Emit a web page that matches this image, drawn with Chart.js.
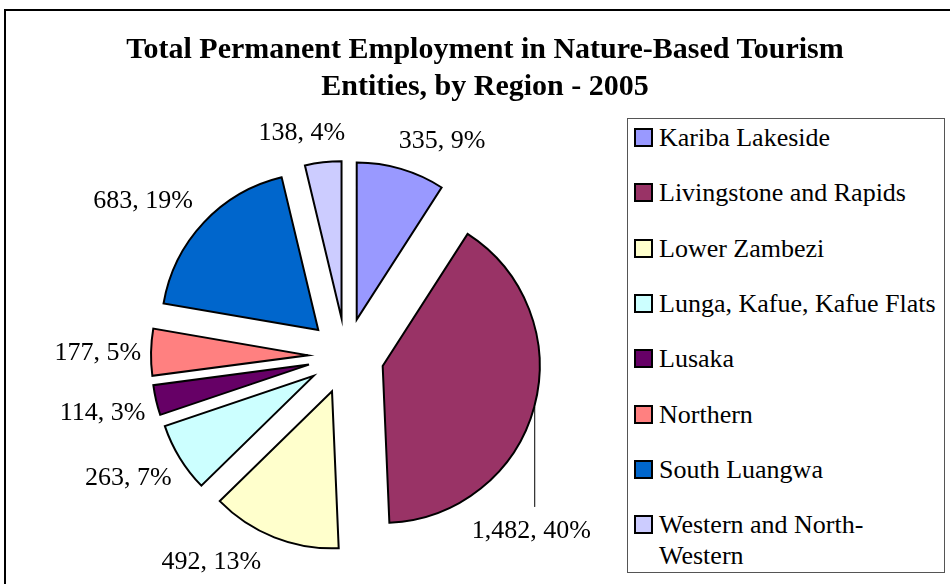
<!DOCTYPE html>
<html>
<head>
<meta charset="utf-8">
<script src="https://cdn.jsdelivr.net/npm/chart.js@4.4.0/dist/chart.umd.min.js"></script>
<style>
  html, body { margin: 0; padding: 0; background: #fff; overflow: hidden; }
  #wrap { position: relative; width: 950px; height: 584px; }
  #frame { position: absolute; left: 4px; top: 9px; width: 970px; height: 620px; border: 2px solid #000; box-sizing: border-box; }
  #title { position: absolute; left: 0; top: 29px; width: 970px; text-align: center;
           font: bold 30px "Liberation Serif", serif; line-height: 37px; color: #000; }
  #legend { position: absolute; left: 627px; top: 118px; width: 318px; height: 455px;
            border: 1px solid #555; box-sizing: border-box; background: #fff; }
  .item { position: absolute; left: 0; width: 315px; font: 26px "Liberation Serif", serif; line-height: 31px; color: #000; }
  .swatch { position: absolute; left: 6px; top: 6px; width: 19px; height: 19px; border: 2px solid #000; box-sizing: border-box; }
  .text { position: absolute; left: 31px; width: 285px; }
  canvas { position: absolute; left: 0; top: 0; }
</style>
</head>
<body>
<div id="wrap">
  <div id="frame"></div>
  <canvas id="chart" width="950" height="584"></canvas>
  <div id="title">Total Permanent Employment in Nature-Based Tourism<br>Entities, by Region - 2005</div>
  <div id="legend"></div>
</div>
<script>
const regions = ['Kariba Lakeside', 'Livingstone and Rapids', 'Lower Zambezi', 'Lunga, Kafue, Kafue Flats',
                 'Lusaka', 'Northern', 'South Luangwa', 'Western and North-Western'];
const employment = [335, 1482, 492, 263, 114, 177, 683, 138];
const sliceColors = ['#9999FF', '#993366', '#FFFFCC', '#CCFFFF', '#660066', '#FF8080', '#0066CC', '#CCCCFF'];

// legend (html, boxed like the original)
const legendBox = document.getElementById('legend');
regions.forEach((name, i) => {
    const item = document.createElement('div');
    item.className = 'item';
    item.style.top = (3 + i * 55.3) + 'px';
    item.innerHTML = '<span class="swatch" style="background:' + sliceColors[i] + '"></span><span class="text">' + name + '</span>';
    legendBox.appendChild(item);
});

// push every slice out from the centre, same distance for all
const explodePlugin = {
    id: 'explode',
    afterDatasetsUpdate(chart, args, opts) {
        chart.getDatasetMeta(0).data.forEach(arc => {
            const mid = (arc.startAngle + arc.endAngle) / 2;
            arc.x += Math.cos(mid) * opts.distance;
            arc.y += Math.sin(mid) * opts.distance;
        });
    }
};

// "value, pct%" labels outside the slices
const sliceLabelPlugin = {
    id: 'sliceLabels',
    afterDatasetsDraw(chart, args, opts) {
        const ctx = chart.ctx;
        const values = chart.data.datasets[0].data;
        const total = values.reduce((a, b) => a + b, 0);
        ctx.save();
        ctx.font = opts.font;
        ctx.fillStyle = '#000';
        ctx.strokeStyle = '#000';
        ctx.lineWidth = 1;
        ctx.textAlign = 'center';
        ctx.textBaseline = 'middle';
        chart.getDatasetMeta(0).data.forEach((arc, i) => {
            const text = values[i].toLocaleString('en-US') + ', ' + Math.round(values[i] / total * 100) + '%';
            const mid = (arc.startAngle + arc.endAngle) / 2;
            const dx = Math.cos(mid), dy = Math.sin(mid);
            const w = ctx.measureText(text).width;
            if (opts.drop[i]) {
                // leader line straight down from the arc
                const px = arc.x + dx * arc.outerRadius, py = arc.y + dy * arc.outerRadius;
                ctx.beginPath();
                ctx.moveTo(px + 0.5, py);
                ctx.lineTo(px + 0.5, py + opts.drop[i]);
                ctx.stroke();
                ctx.fillText(text, px - 3, py + opts.drop[i] + 24);
                return;
            }
            const r = arc.outerRadius + opts.pad;
            const nudge = opts.nudge[i] || [0, 0];
            const x = arc.x + dx * r + dx * w / 2 + nudge[0];
            const y = arc.y + dy * r + dy * 19 + nudge[1];
            ctx.fillText(text, x, y);
        });
        ctx.restore();
    }
};

const ctx = document.getElementById('chart').getContext('2d');
new Chart(ctx, {
    type: 'pie',
    data: {
        labels: regions,
        datasets: [{
            data: employment,
            backgroundColor: sliceColors,
            borderColor: '#000',
            borderWidth: 2,
            borderJoinStyle: 'miter',
            clip: false
        }]
    },
    options: {
        responsive: false,
        animation: false,
        radius: 157,
        layout: { padding: { left: 0, right: 258, top: 128, bottom: 0 } },
        plugins: {
            legend: { display: false },
            title: { display: false },
            tooltip: { enabled: false },
            explode: { distance: 38 },
            sliceLabels: {
                font: '26px "Liberation Serif", serif',
                pad: 10,
                drop: { 1: 100 },
                nudge: [[26, 0], [0, 0], [-41, -2], [-6, 5], [-2, 6], [0, 2], [-17, -2], [-15, 0]]
            }
        }
    },
    plugins: [explodePlugin, sliceLabelPlugin]
});
</script>
</body>
</html>
